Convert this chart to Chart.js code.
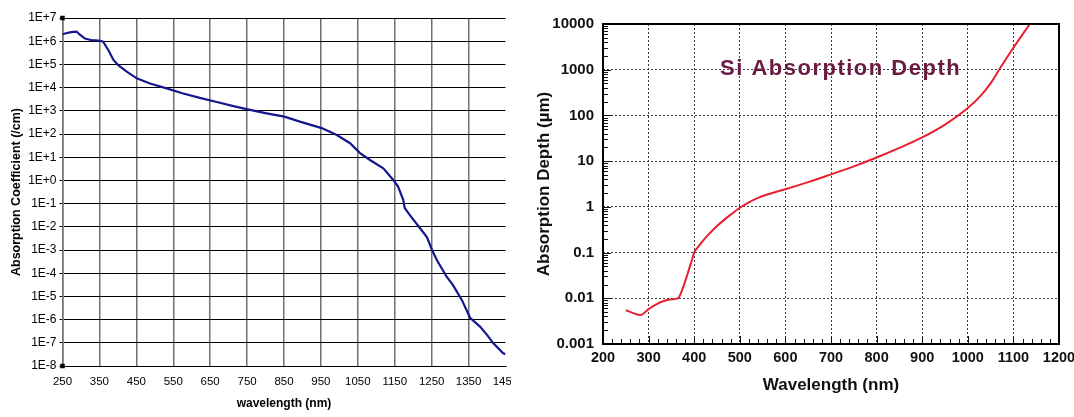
<!DOCTYPE html>
<html><head><meta charset="utf-8">
<script src="https://cdn.jsdelivr.net/npm/chart.js@4.4.1/dist/chart.umd.min.js"></script>
<style>
html,body{margin:0;padding:0;background:#fff;width:1074px;height:417px;overflow:hidden;}
#c1{position:absolute;left:0;top:0;}
#c2{position:absolute;left:515px;top:0;}
</style></head><body>
<canvas id="c1" width="511" height="417"></canvas>
<canvas id="c2" width="559" height="417"></canvas>
<script>
// ---------- Left chart: absorption coefficient ----------
const coefWavelength = [250,260,270,280,288,297,311,329,340,352,360,374,388,401,424,451,487,532,577,622,668,713,758,803,851,893,952,993,1029,1056,1083,1119,1146,1159,1173,1177,1191,1218,1237,1251,1264,1291,1307,1332,1354,1381,1400,1416,1443,1450];
const coefValues = [2.0e6,2.2e6,2.4e6,2.5e6,2.6e6,1.9e6,1.3e6,1.1e6,1.1e6,1.05e6,9.6e5,4.2e5,1.55e5,9.3e4,4.9e4,2.5e4,1.5e4,9.3e3,5.6e3,3.6e3,2.4e3,1.6e3,1.1e3,7.8e2,5.6e2,3.4e2,1.8e2,91,40,15,7.6,3.3,1.05,0.54,0.145,0.065,0.032,8.9e-3,3.6e-3,1.0e-3,3.7e-4,6.9e-5,3.2e-5,6.9e-6,1.2e-6,5.0e-7,2.2e-7,1.0e-7,3.6e-8,3.2e-8];
const coefXTicks = [250,350,450,550,650,750,850,950,1050,1150,1250,1350,1450];
const coefYTicks = [1e7,1e6,1e5,1e4,1e3,1e2,1e1,1e0,1e-1,1e-2,1e-3,1e-4,1e-5,1e-6,1e-7,1e-8];
const coefYTickLabels = ['1E+7','1E+6','1E+5','1E+4','1E+3','1E+2','1E+1','1E+0','1E-1','1E-2','1E-3','1E-4','1E-5','1E-6','1E-7','1E-8'];
const cornerMarkX = [250,250];
const cornerMarkY = [1e7,1e-8];

// ---------- Right chart: absorption depth ----------
const depthWavelength = [250,265,282,300,315,330,350,365,375,385,395,400,410,420,430,440,450,465,480,500,520,540,560,580,600,650,700,750,800,850,900,950,1000,1030,1050,1070,1100,1136];
const depthValues = [0.0055,0.0048,0.0043,0.0058,0.0072,0.0085,0.0095,0.0101,0.0166,0.033,0.069,0.1,0.138,0.184,0.24,0.305,0.38,0.513,0.676,0.955,1.26,1.57,1.86,2.14,2.43,3.47,5.13,7.67,12.0,19.5,33.1,63.1,145,282,501,1047,3020,10000];
const depthXTicks = [200,300,400,500,600,700,800,900,1000,1100,1200];
const depthYTicks = [0.001,0.01,0.1,1,10,100,1000,10000];
const depthYTickLabels = ['0.001','0.01','0.1','1','10','100','1000','10000'];
const depthTitle = 'Si Absorption Depth';

const FONT = "'Liberation Sans', Arial, Helvetica, sans-serif";

function zeroPad(s){ s.paddingLeft=0; s.paddingRight=0; s.paddingTop=0; s.paddingBottom=0; }

// ---------- Left chart ----------
new Chart(document.getElementById('c1'), {
  type: 'line',
  data: {
    datasets: [
      {
        label: 'Absorption Coefficient',
        data: coefWavelength.map((x,i)=>({x:x, y:coefValues[i]})),
        borderColor: '#16168e',
        borderWidth: 2.2,
        pointRadius: 0,
        tension: 0,
        fill: false
      },
      {
        label: 'marks',
        data: cornerMarkX.map((x,i)=>({x:x, y:cornerMarkY[i]})),
        showLine: false,
        pointStyle: 'rect',
        pointRadius: 3.2,
        backgroundColor: '#000',
        borderColor: '#000',
        borderWidth: 0,
        clip: false
      }
    ]
  },
  options: {
    responsive: false,
    animation: false,
    devicePixelRatio: 1,
    layout: { autoPadding: false, padding: { left: 0, right: 5.5, top: 18, bottom: 0 } },
    plugins: { legend: { display: false }, tooltip: { enabled: false } },
    scales: {
      x: {
        type: 'linear',
        min: 250, max: 1450,
        afterBuildTicks: s => { s.ticks = coefXTicks.map(v=>({value:v})); },
        afterFit: s => { s.height = 51; zeroPad(s); },
        ticks: { autoSkip: false, maxRotation: 0, padding: 9, color: '#000',
                 font: { family: FONT, size: 11.5 }, callback: v => String(v) },
        grid: { drawTicks: false, lineWidth: 1.5,
                color: c => (c.tick && c.tick.value === 1450) ? 'rgba(0,0,0,0)' : '#707070' },
        border: { display: true, color: '#000', width: 1 },
        title: { display: true, text: 'wavelength (nm)', color: '#000',
                 font: { family: FONT, size: 12, weight: 'bold' }, padding: { top: 0, bottom: 6.5 } }
      },
      y: {
        type: 'logarithmic',
        min: 1e-8, max: 1e7,
        afterBuildTicks: s => { s.ticks = coefYTicks.map(v=>({value:v})); },
        afterFit: s => { s.width = 62.5; zeroPad(s); },
        ticks: { autoSkip: false, padding: 3, color: '#000',
                 font: { family: FONT, size: 12 },
                 callback: v => coefYTickLabels[coefYTicks.findIndex(t => Math.abs(Math.log10(t) - Math.log10(v)) < 1e-6)] },
        grid: { drawTicks: true, tickLength: 3, lineWidth: 1, color: '#000' },
        border: { display: true, color: '#707070', width: 1.5 },
        title: { display: true, text: 'Absorption Coefficient (/cm)', color: '#000',
                 font: { family: FONT, size: 12.5, weight: 'bold' }, padding: { top: 9.5, bottom: 0 } }
      }
    }
  }
});

// ---------- Right chart ----------
const depthDecor = {
  id: 'depthDecor',
  afterDraw(chart) {
    const { ctx, chartArea: a, scales: { x, y } } = chart;
    ctx.save();
    ctx.strokeStyle = '#111';
    ctx.lineWidth = 1;
    // minor / major tick marks on the left axis (inward)
    for (let d = -3; d <= 3; d++) {
      for (let m = 1; m <= 9; m++) {
        const v = m * Math.pow(10, d);
        const py = Math.round(y.getPixelForValue(v)) + 0.5;
        const len = m === 1 ? 8 : 5;
        ctx.beginPath(); ctx.moveTo(a.left, py); ctx.lineTo(a.left + len, py); ctx.stroke();
      }
    }
    // tick marks on the bottom axis (inward), every 20 nm
    for (let v = 200; v <= 1200; v += 20) {
      const px = Math.round(x.getPixelForValue(v)) + 0.5;
      const len = v % 100 === 0 ? 8 : 5;
      ctx.beginPath(); ctx.moveTo(px, a.bottom); ctx.lineTo(px, a.bottom - len); ctx.stroke();
    }
    // frame
    ctx.lineWidth = 2;
    ctx.strokeStyle = '#000';
    ctx.strokeRect(a.left, a.top, a.right - a.left, a.bottom - a.top);
    // inset title
    ctx.fillStyle = '#6b1a42';
    ctx.font = "bold 22px " + FONT;
    try { ctx.letterSpacing = '1.5px'; } catch (e) {}
    ctx.textBaseline = 'alphabetic';
    ctx.textAlign = 'left';
    ctx.fillText(depthTitle, a.left + 117, a.top + 51);
    ctx.restore();
  }
};

new Chart(document.getElementById('c2'), {
  type: 'line',
  data: {
    datasets: [{
      label: 'Absorption Depth',
      data: depthWavelength.map((x,i)=>({x:x, y:depthValues[i]})),
      borderColor: '#e8202e',
      borderWidth: 2,
      pointRadius: 0,
      cubicInterpolationMode: 'monotone',
      fill: false
    }]
  },
  options: {
    responsive: false,
    animation: false,
    devicePixelRatio: 1,
    layout: { autoPadding: false, padding: { left: 0, right: 15, top: 24, bottom: 0 } },
    plugins: { legend: { display: false }, tooltip: { enabled: false } },
    scales: {
      x: {
        type: 'linear',
        min: 200, max: 1200,
        afterBuildTicks: s => { s.ticks = depthXTicks.map(v=>({value:v})); },
        afterFit: s => { s.height = 73; zeroPad(s); },
        ticks: { autoSkip: false, maxRotation: 0, padding: 5, color: '#111',
                 font: { family: FONT, size: 14.5, weight: 'bold' }, callback: v => String(v) },
        grid: { drawTicks: false, lineWidth: 1, color: '#3a3a3a' },
        border: { display: false, dash: [2, 2] },
        title: { display: true, text: 'Wavelength (nm)', color: '#111',
                 font: { family: FONT, size: 17, weight: 'bold' }, padding: { top: 0, bottom: 21.5 } }
      },
      y: {
        type: 'logarithmic',
        min: 0.001, max: 10000,
        afterBuildTicks: s => { s.ticks = depthYTicks.map(v=>({value:v})); },
        afterFit: s => { s.width = 88; zeroPad(s); },
        ticks: { autoSkip: false, padding: 9, color: '#111',
                 font: { family: FONT, size: 15, weight: 'bold' },
                 callback: v => depthYTickLabels[depthYTicks.findIndex(t => Math.abs(Math.log10(t) - Math.log10(v)) < 1e-6)] },
        grid: { drawTicks: false, lineWidth: 1, color: '#3a3a3a' },
        border: { display: false, dash: [2, 2] },
        title: { display: true, text: 'Absorption Depth (µm)', color: '#111',
                 font: { family: FONT, size: 17, weight: 'bold' }, padding: { top: 19.5, bottom: 0 } }
      }
    }
  },
  plugins: [depthDecor]
});
</script>
</body></html>
